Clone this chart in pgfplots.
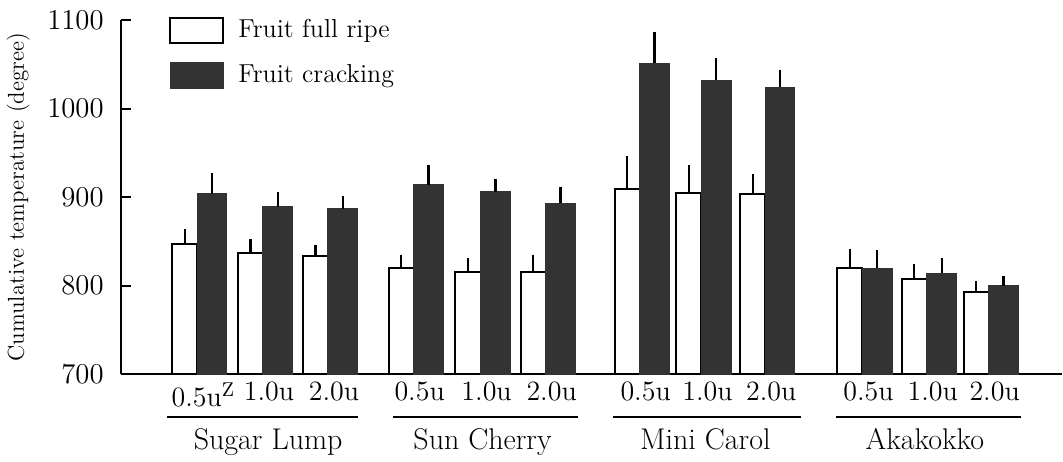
\documentclass[border=0pt]{standalone}
\usepackage{pgfplots}
\pgfplotsset{compat=1.18}
\definecolor{crack}{gray}{0.2}
\begin{document}
\begin{tikzpicture}
\begin{axis}[
  scale only axis, width=471.5pt, height=177.5pt,
  xmin=-1.19, xmax=13.43, ymin=700, ymax=1100,
  clip=false,
  axis x line*=bottom, axis y line*=left,
  axis line style={-, line width=1pt},
  ytick={700,800,900,1000,1100},
  /pgf/number format/1000 sep={},
  tick align=inside, major tick length=5pt,
  y tick style={line width=1pt, black},
  xtick={0,1.02,2.03,3.36,4.40,5.41,6.87,7.83,8.82,10.33,11.33,12.29},
  xticklabels={0.5u$^{\mathrm{Z}}$,1.0u,2.0u,0.5u,1.0u,2.0u,0.5u,1.0u,2.0u,0.5u,1.0u,2.0u},
  x tick style={draw=none},
  xticklabel style={font=\fontsize{14}{16}\selectfont, yshift=-0.5pt, xshift=3pt},
  yticklabel style={font=\fontsize{14}{16}\selectfont, xshift=-5pt},
  ylabel={Cumulative temperature (degree)},
  ylabel style={font=\fontsize{11.5}{14}\selectfont, yshift=2pt},
  legend style={at={(0.045,1.025)}, anchor=north west, draw=none, fill=none,
    font=\fontsize{13}{15}\selectfont, row sep=8pt,
    /tikz/every odd column/.style={column sep=5pt}},
  legend cell align=left,
  error bars/y dir=plus, error bars/y explicit,
  error bars/error mark=none,
  error bars/error bar style={line width=1.1pt, black},
]
% Fruit full ripe (bars placed left of each pair centre)
\addplot[ybar, bar width=0.39, bar shift=0, draw=black, line width=1pt, fill=white,
  legend image code/.code={\draw[line width=1pt, draw=black, fill=white] (0pt,-6.25pt) rectangle (26.5pt,6.25pt);}]
coordinates {
(-0.195,847) +- (0,17)
(0.825,837) +- (0,16)
(1.835,834) +- (0,12)
(3.165,820) +- (0,15)
(4.205,816) +- (0,15)
(5.215,816) +- (0,19)
(6.675,909) +- (0,37)
(7.635,905) +- (0,31)
(8.625,903) +- (0,23)
(10.135,820) +- (0,22)
(11.135,808) +- (0,17)
(12.095,793) +- (0,12)
};
\addlegendentry{Fruit full ripe}
% Fruit cracking (bars placed right of each pair centre)
\addplot[ybar, bar width=0.46, bar shift=0, draw=crack, line width=0.5pt, fill=crack,
  legend image code/.code={\draw[draw=crack, fill=crack] (0pt,-6.5pt) rectangle (26.5pt,6.5pt);}]
coordinates {
(0.23,904) +- (0,23)
(1.25,889) +- (0,17)
(2.26,887) +- (0,14)
(3.59,914) +- (0,22)
(4.63,906) +- (0,15)
(5.64,893) +- (0,19)
(7.10,1051) +- (0,35)
(8.06,1032) +- (0,25)
(9.05,1024) +- (0,20)
(10.56,820) +- (0,20)
(11.56,814) +- (0,17)
(12.52,800) +- (0,11)
};
\addlegendentry{Fruit cracking}
% group underlines and names
\draw[line width=1pt] ([yshift=-21.5pt]axis cs:-0.47,700) -- ([yshift=-21.5pt]axis cs:2.50,700);
\draw[line width=1pt] ([yshift=-21.5pt]axis cs:3.04,700) -- ([yshift=-21.5pt]axis cs:5.91,700);
\draw[line width=1pt] ([yshift=-21.5pt]axis cs:6.45,700) -- ([yshift=-21.5pt]axis cs:9.38,700);
\draw[line width=1pt] ([yshift=-21.5pt]axis cs:9.92,700) -- ([yshift=-21.5pt]axis cs:12.79,700);
\node[anchor=base, font=\fontsize{15}{17}\selectfont] at ([yshift=-37.5pt]axis cs:1.10,700) {Sugar Lump};
\node[anchor=base, font=\fontsize{15}{17}\selectfont] at ([yshift=-37.5pt]axis cs:4.43,700) {Sun Cherry};
\node[anchor=base, font=\fontsize{15}{17}\selectfont] at ([yshift=-37.5pt]axis cs:7.89,700) {Mini Carol};
\node[anchor=base, font=\fontsize{15}{17}\selectfont] at ([yshift=-37.5pt]axis cs:11.30,700) {Akakokko};
\path ([yshift=10pt]rel axis cs:0,1);
\end{axis}
\end{tikzpicture}
\end{document}
